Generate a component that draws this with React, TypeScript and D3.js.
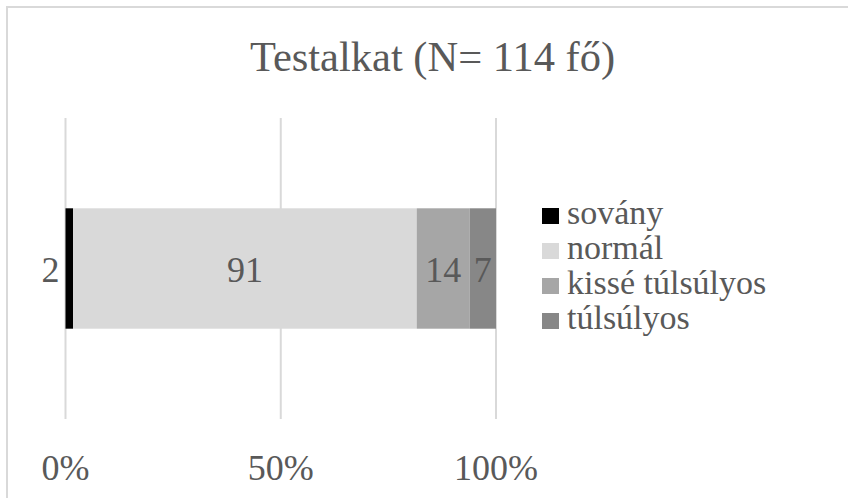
import React from "react";
import * as d3 from "d3";

const title = "Testalkat (N= 114 fő)";
const categories = ["sovány", "normál", "kissé túlsúlyos", "túlsúlyos"];
const values = [2, 91, 14, 7];
const colors = ["#000000", "#d9d9d9", "#a6a6a6", "#878787"];
const tickValues = [0, 0.5, 1];
const tickLabels = ["0%", "50%", "100%"];

const FAMILY = "Liberation Serif";

export default function App() {
  const W = 848, H = 498;
  const x = d3.scaleLinear().domain([0, 1]).range([65.5, 496]);
  const y = d3.scaleBand().domain(["row"]).range([118, 419]).paddingInner(0.6).paddingOuter(0.3);
  const total = d3.sum(values);
  const stack = d3.stack<Record<string, number>>().keys(categories)([
    Object.fromEntries(categories.map((c, i) => [c, values[i] / total])) as Record<string, number>,
  ]);
  const textColor = "#595959";
  const by = y("row")!;
  const bh = y.bandwidth();
  const T = (props: any) => (
    <text {...props} fill={textColor} fontFamily={FAMILY} style={{ fontFamily: `"${FAMILY}"` }} />
  );
  return (
    <svg width={W} height={H} style={{ position: "absolute", left: 0, top: 0 }}>
      <rect x={7} y={7} width={W + 20} height={H + 20} fill="#fff" stroke="#d9d9d9" strokeWidth={2} />
      <T x={432.5} y={71} textAnchor="middle" fontSize={42.5}>{title}</T>
      {tickValues.map((t) => (
        <line key={t} x1={x(t)} x2={x(t)} y1={118} y2={419} stroke="#d9d9d9" strokeWidth={2} />
      ))}
      {stack.map((s, i) => {
        const [a, b] = s[0];
        return (
          <rect key={categories[i]} x={x(a)} y={by} width={x(b) - x(a)} height={bh} fill={colors[i]} />
        );
      })}
      {stack.map((s, i) => {
        const [a, b] = s[0];
        const small = i === 0;
        const cx = small ? x(a) - 6 : (x(a) + x(b)) / 2;
        return (
          <T key={"l" + i} x={cx} y={by + bh / 2 + 13} textAnchor={small ? "end" : "middle"} fontSize={36}>
            {values[i]}
          </T>
        );
      })}
      {tickValues.map((t, i) => (
        <T key={"t" + i} x={x(t)} y={480} textAnchor="middle" fontSize={36}>{tickLabels[i]}</T>
      ))}
      {categories.map((c, i) => (
        <g key={"lg" + i} transform={`translate(542, ${208 + i * 35})`}>
          <rect x={0} y={0} width={17} height={16} fill={colors[i]} />
          <T x={25} y={16} fontSize={34}>{c}</T>
        </g>
      ))}
    </svg>
  );
}
